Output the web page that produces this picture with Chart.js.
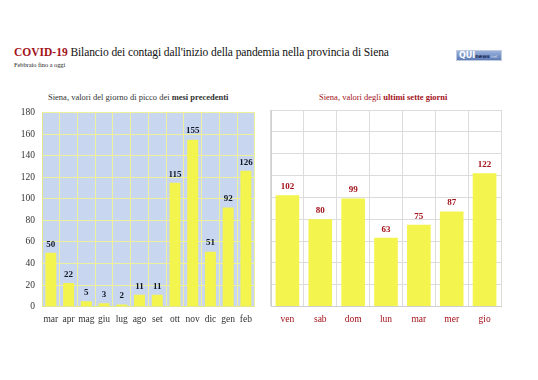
<!DOCTYPE html>
<html>
<head>
<meta charset="utf-8">
<script src="https://cdn.jsdelivr.net/npm/chart.js@4"></script>
<style>
  body { margin: 0; background: #fff; width: 538px; height: 380px; position: relative; overflow: hidden; font-family: "Liberation Serif", serif; }
  #title { position: absolute; left: 14px; top: 46px; font-size: 11.5px; color: #111; white-space: nowrap; letter-spacing: -0.1px; }
  #title b { color: #a3121a; letter-spacing: 0; }
  #sub { position: absolute; left: 14px; top: 61px; font-size: 6.3px; color: #222; }
  #logo { position: absolute; left: 456px; top: 50px; width: 46px; height: 11px; background: linear-gradient(#9ab2dc, #5d7bb6); border: 1px solid #c0cbe0; font-family: "DejaVu Sans", sans-serif; font-size: 8px; line-height: 10px; color: #fff; font-weight: bold; padding-left: 2px; box-sizing: border-box; overflow: hidden; white-space: nowrap; }
  #logo span { font-size: 5px; color: #1b2a55; }
  #logo i { font-size: 4px; color: #dde; font-style: normal; font-weight: normal; }
  .ctitle { position: absolute; top: 92px; font-size: 8.5px; white-space: nowrap; }
  #t1 { left: 48px; color: #333; }
  #t2 { left: 319px; color: #a3121a; }
  .box { position: absolute; }
</style>
</head>
<body>
<div id="title"><b>COVID-19</b> Bilancio dei contagi dall'inizio della pandemia nella provincia di Siena</div>
<div id="sub">Febbraio fino a oggi</div>
<div id="logo">QUI<span>news</span><i>.net</i></div>
<div class="ctitle" id="t1">Siena, valori del giorno di picco dei <b>mesi precedenti</b></div>
<div class="ctitle" id="t2">Siena, valori degli <b>ultimi sette giorni</b></div>
<div class="box" style="left:8px; top:100px; width:251px; height:232px;"><canvas id="c1"></canvas></div>
<div class="box" style="left:270px; top:102px; width:232px; height:230px;"><canvas id="c2"></canvas></div>
<script>
const mesi = ['mar', 'apr', 'mag', 'giu', 'lug', 'ago', 'set', 'ott', 'nov', 'dic', 'gen', 'feb'];
const piccoMesi = [50, 22, 5, 3, 2, 11, 11, 115, 155, 51, 92, 126];
const giorni = ['ven', 'sab', 'dom', 'lun', 'mar', 'mer', 'gio'];
const ultimiGiorni = [102, 80, 99, 63, 75, 87, 122];

const serif = '"Liberation Serif", serif';

// bg of plot area
const plotBg = {
  id: 'plotBg',
  beforeDraw(chart, args, opts) {
    if (!opts.color) return;
    const a = chart.chartArea, ctx = chart.ctx;
    ctx.save();
    ctx.fillStyle = opts.color;
    ctx.fillRect(a.left, a.top, a.right - a.left, a.bottom - a.top);
    ctx.restore();
  }
};

// value on top of each bar
const valueLabels = {
  id: 'valueLabels',
  afterDatasetsDraw(chart, args, opts) {
    const ctx = chart.ctx;
    const meta = chart.getDatasetMeta(0);
    ctx.save();
    ctx.font = 'bold 9px ' + serif;
    ctx.fillStyle = opts.color;
    ctx.textAlign = 'center';
    ctx.textBaseline = 'bottom';
    meta.data.forEach((bar, i) => {
      ctx.fillText(chart.data.datasets[0].data[i], bar.x, bar.y - 4);
    });
    ctx.restore();
  }
};

function makeChart(id, labels, values, o) {
  return new Chart(document.getElementById(id), {
    type: 'bar',
    data: {
      labels: labels,
      datasets: [{
        data: values,
        backgroundColor: '#f4f44e',
        barPercentage: o.barPct,
        categoryPercentage: 1
      }]
    },
    options: {
      responsive: true,
      maintainAspectRatio: false,
      animation: false,
      layout: { padding: { top: o.padTop, right: 1 } },
      plugins: {
        legend: { display: false },
        tooltip: { enabled: false },
        plotBg: { color: o.bg },
        valueLabels: { color: o.labelColor }
      },
      scales: {
        x: {
          grid: { color: o.grid, drawTicks: false, offset: true },
          border: { color: o.border },
          ticks: { color: o.tickColor, font: { family: serif, size: 9.5 }, padding: 7, autoSkip: false, maxRotation: 0 }
        },
        y: {
          min: 0, max: 180,
          afterFit: s => { s.width = o.yWidth; },
          grid: { color: o.grid, drawTicks: false },
          border: { color: o.border },
          ticks: { display: o.yTicks, stepSize: 20, color: '#333', font: { family: serif, size: 9.5 }, padding: 7 }
        }
      }
    },
    plugins: [plotBg, valueLabels]
  });
}

makeChart('c1', mesi, piccoMesi, {
  bg: '#c9d6f0', grid: '#eef09a', border: '#e4e68c', tickColor: '#333',
  labelColor: '#111827', barPct: 0.62, yWidth: 34, yTicks: true, padTop: 4
});
makeChart('c2', giorni, ultimiGiorni, {
  bg: null, grid: '#dcdcdc', border: '#cfcfcf', tickColor: '#a3121a',
  labelColor: '#a3121a', barPct: 0.72, yWidth: 1, yTicks: false, padTop: 8
});
</script>
</body>
</html>
